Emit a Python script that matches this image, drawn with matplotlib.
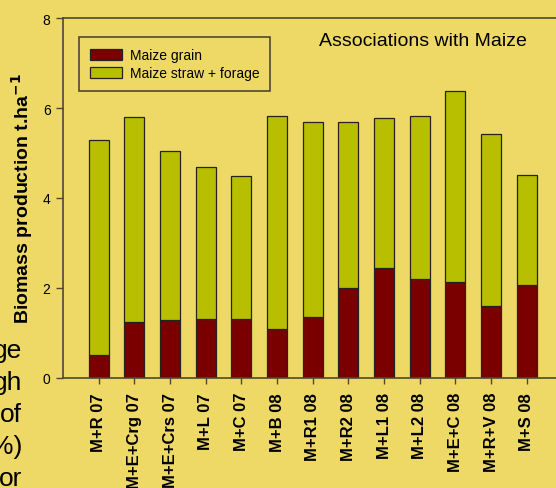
import numpy as np
import matplotlib
matplotlib.use('Agg')
import matplotlib.pyplot as plt

# valores (t/ha)
tratamentos = ['M+R 07', 'M+E+Crg 07', 'M+E+Crs 07', 'M+L 07', 'M+C 07', 'M+B 08',
               'M+R1 08', 'M+R2 08', 'M+L1 08', 'M+L2 08', 'M+E+C 08', 'M+R+V 08', 'M+S 08']
grao = [0.51, 1.24, 1.28, 1.31, 1.31, 1.09, 1.36, 2.00, 2.44, 2.20, 2.13, 1.60, 2.07]
total = [5.30, 5.81, 5.05, 4.70, 4.50, 5.82, 5.69, 5.69, 5.78, 5.82, 6.38, 5.43, 4.52]
palha = [t - g for t, g in zip(total, grao)]
yticks = [0, 2, 4, 6, 8]

fundo = '#EFD966'
cor_grao = '#7A0000'
cor_palha = '#B8BF00'
cor_linha = '#4E4830'

plt.rcParams['font.family'] = ['Liberation Sans', 'DejaVu Sans']

fig = plt.figure(figsize=(5.56, 4.89), dpi=100, facecolor=fundo)
ax = fig.add_axes([63/556, 110/489, 499.4/556, 360/489], facecolor=fundo)

x = np.arange(1, len(tratamentos) + 1)
ax.bar(x, grao, width=0.56, color=cor_grao, edgecolor='#222222', linewidth=0.9,
       label='Maize grain')
ax.bar(x, palha, width=0.56, bottom=grao, color=cor_palha, edgecolor='#222222',
       linewidth=0.9, label='Maize straw + forage')

ax.set_xlim(0, 14)
ax.set_ylim(0, 8)
ax.set_yticks(yticks)
ax.set_yticklabels([str(v) for v in yticks], fontsize=10)
ax.set_xticks(x)
ax.set_xticklabels(tratamentos, rotation=90, fontsize=12, fontweight='bold')
ax.tick_params(axis='x', length=4, width=1, color=cor_linha, pad=6)
ax.tick_params(axis='y', length=5, width=1, color=cor_linha, pad=4)

for lado in ['left', 'top', 'bottom', 'right']:
    ax.spines[lado].set_color(cor_linha)
    ax.spines[lado].set_linewidth(1.2)

fig.text(22/556, (489 - 199)/489, r'Biomass production t.ha$^{\mathbf{-1}}$', rotation=90,
         ha='center', va='center', fontsize=14, fontweight='bold')

fig.text(423/556, 447/489, 'Associations with Maize', ha='center', va='center', fontsize=14)

leg = fig.legend(loc='upper left', bbox_to_anchor=(79/556, 451/489),
                 bbox_transform=fig.transFigure, borderaxespad=0, fontsize=10,
                 handlelength=2.3, handleheight=0.8, handletextpad=0.55,
                 fancybox=False, framealpha=1,
                 facecolor=fundo, edgecolor=cor_linha, borderpad=0.8, labelspacing=0.3)
leg.get_frame().set_linewidth(1.2)

# texto cortado de outra parte do slide
fig.text(22/556, 150/489, 'ge\ngh\nof\n%)\nor', ha='right', va='top', fontsize=19,
         linespacing=1.42)

fig.savefig('out.png', dpi=100, facecolor=fundo)
